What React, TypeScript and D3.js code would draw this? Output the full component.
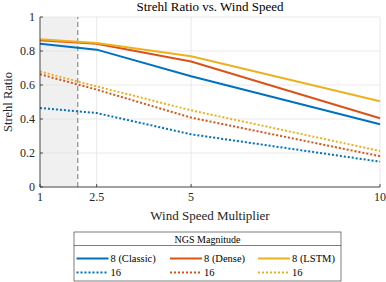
import React from 'react'
import * as d3 from 'd3'

// wind speed multipliers sampled
const windSpeeds = [1, 2.5, 5, 10]
const xTicks = [1, 2.5, 5, 10]
const yTicks = [0, 0.2, 0.4, 0.6, 0.8, 1]

// strehl ratio per model, NGS magnitude 8 and 16
const classic8 = [0.843, 0.808, 0.651, 0.369]
const dense8 = [0.863, 0.843, 0.738, 0.404]
const lstm8 = [0.869, 0.847, 0.769, 0.504]
const classic16 = [0.465, 0.435, 0.31, 0.149]
const dense16 = [0.663, 0.573, 0.408, 0.181]
const lstm16 = [0.679, 0.592, 0.451, 0.212]

const trainRange = [1, 2]

const series = [
  { name: '8 (Classic)', values: classic8, color: '#0072BD', dotted: false },
  { name: '8 (Dense)', values: dense8, color: '#D95319', dotted: false },
  { name: '8 (LSTM)', values: lstm8, color: '#EDB120', dotted: false },
  { name: '16', values: classic16, color: '#0072BD', dotted: true },
  { name: '16', values: dense16, color: '#D95319', dotted: true },
  { name: '16', values: lstm16, color: '#EDB120', dotted: true },
]

const font = '"Liberation Serif", "Times New Roman", serif'

export default function App() {
  const width = 386
  const height = 282
  const margin = { left: 40, right: 6, top: 17, bottom: 95 }

  const x = d3.scaleLinear().domain([1, 10]).range([margin.left, width - margin.right])
  const y = d3.scaleLinear().domain([0, 1]).range([height - margin.bottom, margin.top])

  const line = d3
    .line<number>()
    .x((d, i) => x(windSpeeds[i]))
    .y((d) => y(d))

  const legX = 74
  const legY = 232
  const colX = [76.5, 170, 258]

  return (
    <svg
      width={width}
      height={height}
      style={{ position: 'absolute', left: 0, top: 0, background: '#fff' }}
    >
      <g fontFamily={font}>
        {/* shaded training region */}
        <rect
          x={x(trainRange[0])}
          y={y(1)}
          width={x(trainRange[1]) - x(trainRange[0])}
          height={y(0) - y(1)}
          fill="#f0f0f0"
        />
        {/* grid */}
        {yTicks.map((t) => (
          <line key={'gy' + t} x1={x(1)} x2={x(10)} y1={y(t)} y2={y(t)} stroke="#e3e3e3" strokeWidth={0.8} />
        ))}
        {xTicks.map((t) => (
          <line key={'gx' + t} x1={x(t)} x2={x(t)} y1={y(0)} y2={y(1)} stroke="#e3e3e3" strokeWidth={0.8} />
        ))}
        <line
          x1={x(trainRange[1])}
          x2={x(trainRange[1])}
          y1={y(0)}
          y2={y(1)}
          stroke="#8c8c8c"
          strokeWidth={1.2}
          strokeDasharray="5 3"
        />
        {series.map((s, i) => (
          <path
            key={i}
            d={line(s.values) || ''}
            fill="none"
            stroke={s.color}
            strokeWidth={2}
            strokeDasharray={s.dotted ? '2 2' : undefined}
          />
        ))}
        {/* axes */}
        <line x1={x(1)} x2={x(1)} y1={y(0)} y2={y(1)} stroke="#262626" strokeWidth={0.8} />
        <line x1={x(1)} x2={x(10)} y1={y(0)} y2={y(0)} stroke="#262626" strokeWidth={0.8} />
        {yTicks.map((t) => (
          <g key={'ty' + t}>
            <line x1={x(1)} x2={x(1) + 3} y1={y(t)} y2={y(t)} stroke="#262626" strokeWidth={0.8} />
            <text x={x(1) - 5} y={y(t)} dy="0.35em" textAnchor="end" fontSize={12} fill="#262626">
              {t === 0 || t === 1 ? String(t) : t.toFixed(1)}
            </text>
          </g>
        ))}
        {xTicks.map((t) => (
          <g key={'tx' + t}>
            <line x1={x(t)} x2={x(t)} y1={y(0)} y2={y(0) - 3} stroke="#262626" strokeWidth={0.8} />
            <text x={x(t)} y={y(0) + 14} textAnchor="middle" fontSize={12} fill="#262626">
              {String(t)}
            </text>
          </g>
        ))}
        <text x={(x(1) + x(10)) / 2} y={11} textAnchor="middle" fontSize={13} fill="#000">
          Strehl Ratio vs. Wind Speed
        </text>
        <text x={(x(1) + x(10)) / 2} y={220} textAnchor="middle" fontSize={13} fill="#262626">
          Wind Speed Multiplier
        </text>
        <text
          transform={`translate(12,${(y(0) + y(1)) / 2}) rotate(-90)`}
          textAnchor="middle"
          fontSize={12.5}
          fill="#262626"
        >
          Strehl Ratio
        </text>
        {/* legend */}
        <rect x={legX} y={legY} width={267} height={49} fill="#fff" stroke="#262626" strokeWidth={0.6} />
        <line x1={legX} x2={legX + 267} y1={245.5} y2={245.5} stroke="#262626" strokeWidth={0.6} />
        <text x={legX + 267 / 2} y={239} dy="0.35em" textAnchor="middle" fontSize={10} fill="#000">
          NGS Magnitude
        </text>
        {series.map((s, i) => {
          const col = i % 3
          const row = Math.floor(i / 3)
          const ly = row === 0 ? 258.5 : 272.5
          return (
            <g key={'leg' + i}>
              <line
                x1={colX[col]}
                x2={colX[col] + 32}
                y1={ly}
                y2={ly}
                stroke={s.color}
                strokeWidth={2}
                strokeDasharray={s.dotted ? '2 2' : undefined}
              />
              <text x={colX[col] + 34} y={ly} dy="0.35em" fontSize={10.5} fill="#000">
                {s.name}
              </text>
            </g>
          )
        })}
      </g>
    </svg>
  )
}
